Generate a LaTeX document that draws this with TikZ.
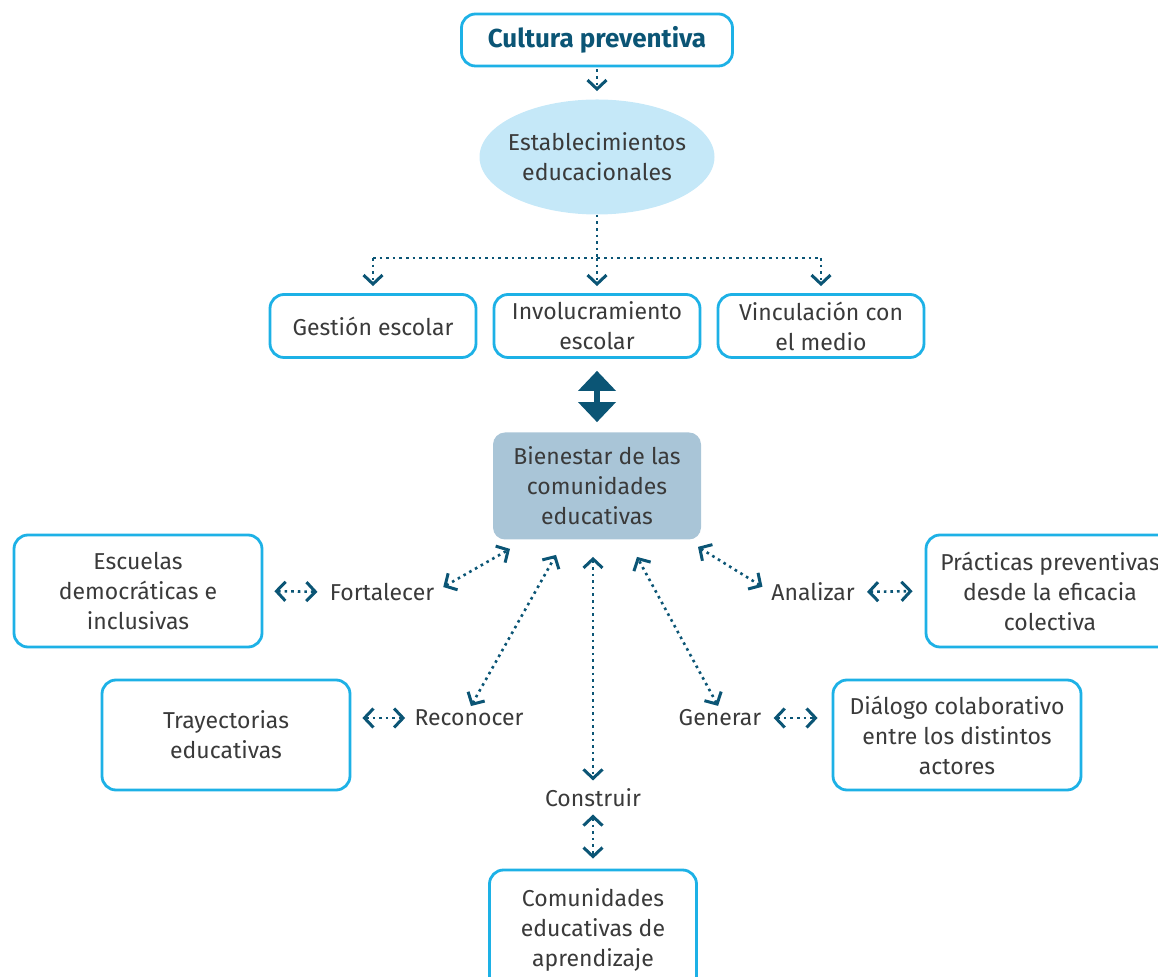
\documentclass[tikz,border=0pt]{standalone}
\usepackage{fontspec}
\setmainfont{Fira Sans}
\usetikzlibrary{arrows.meta,shapes.geometric}
\definecolor{linea}{HTML}{0B5575}
\definecolor{borde}{HTML}{1DB1E6}
\definecolor{elipse}{HTML}{C5E8F8}
\definecolor{fondobien}{HTML}{A9C5D7}
\definecolor{texto}{HTML}{3A3A3A}
\begin{document}
\begin{tikzpicture}[x=0.5pt,y=-0.5pt,
    caja/.style={draw=borde,line width=1.4pt,rounded corners=7pt,align=center,text=texto,
      font=\fontsize{11.5}{15}\selectfont,inner sep=0pt},
    verbo/.style={text=texto,font=\fontsize{11.5}{15}\selectfont,inner sep=0pt},
    punteado/.style={linea,line width=1.3pt,dash pattern=on 1.3pt off 2pt},
    flecha/.style={punteado,-{Straight Barb[length=4.5pt,width=9.5pt,line width=1.5pt]}},
    doble/.style={punteado,{Straight Barb[length=4.5pt,width=9.5pt,line width=1.5pt]}-{Straight Barb[length=4.5pt,width=9.5pt,line width=1.5pt]}}]
  \useasboundingbox (0,0) rectangle (1158,977);
  \clip (0,0) rectangle (1158,977);
  % parte superior
  \node[caja,minimum width=135.5pt,minimum height=26pt,text=linea,font=\fontsize{13}{15}\bfseries](cultura)at(597,40){Cultura preventiva};
  \node[ellipse,fill=elipse,minimum width=117.5pt,minimum height=57.5pt,align=center,text=texto,
    font=\fontsize{11.5}{15}\selectfont,inner xsep=-7pt,inner ysep=0pt](estab)at(597,157){Establecimientos\\educacionales};
  \draw[flecha,shorten <=1pt,shorten >=4pt] (cultura.south) -- (estab.north);
  \node[caja,minimum width=103pt,minimum height=31.5pt](gestion)at(373,326){Gestión escolar};
  \node[caja,minimum width=103pt,minimum height=31.5pt](invol)at(597,326){Involucramiento\\escolar};
  \node[caja,minimum width=103pt,minimum height=31.5pt](vincu)at(821,326){Vinculación con\\el medio};
  \coordinate (rama) at (597,258);
  \draw[punteado] (estab.south) -- (rama);
  \draw[punteado] (gestion.north|-rama) -- (vincu.north|-rama);
  \draw[flecha,shorten >=3.5pt] (gestion.north|-rama) -- (gestion.north);
  \draw[flecha,shorten >=3.5pt] (rama) -- (invol.north);
  \draw[flecha,shorten >=3.5pt] (vincu.north|-rama) -- (vincu.north);
  % centro
  \node[caja,draw=none,fill=fondobien,minimum width=104pt,minimum height=53.5pt,rounded corners=6pt](bien)at(597,486){Bienestar de las\\comunidades\\educativas};
  \draw[linea,line width=3pt,{Triangle[length=10pt,width=19pt,line width=0pt]}-{Triangle[length=10pt,width=19pt,line width=0pt]},
    shorten <=6pt,shorten >=4.5pt] (invol.south) -- (bien.north);
  % izquierda
  \node[caja,minimum width=124pt,minimum height=56pt](escuelas)at(138,591){Escuelas\\democráticas e\\inclusivas};
  \node[verbo](fort)at(382,592){Fortalecer};
  \draw[doble,shorten <=5.5pt,shorten >=6pt] (escuelas.east) -- (fort.west);
  \draw[doble,shorten <=5pt] (fort.east) -- ([shift={(-87,8)}]bien.south);
  \node[caja,minimum width=124pt,minimum height=55pt](trayec)at(226,735){Trayectorias\\educativas};
  \node[verbo](recon)at(469,718){Reconocer};
  \draw[doble,shorten <=5.5pt,shorten >=4.5pt] (trayec.east|-recon.west) -- (recon.west);
  \draw[doble,shorten <=2pt] (recon.north) -- ([shift={(-41,14)}]bien.south);
  % abajo
  \node[verbo](constr)at(593,798){Construir};
  \draw[doble,shorten >=4pt] ([shift={(-4,16)}]bien.south) -- (constr.north);
  \node[caja,minimum width=103.5pt,minimum height=60pt](comun)at(593,930){Comunidades\\educativas de\\aprendizaje};
  \draw[doble,shorten <=3.5pt,shorten >=5pt] (constr.south) -- (comun.north);
  % derecha
  \node[verbo](gener)at(720,718){Generar};
  \draw[doble,shorten <=2pt] (gener.north) -- ([shift={(40,16)}]bien.south);
  \node[caja,minimum width=124pt,minimum height=55pt](dialog)at(957,735){Diálogo colaborativo\\entre los distintos\\actores};
  \draw[doble,shorten <=6pt,shorten >=7pt] (gener.east) -- (dialog.west|-gener.east);
  \node[verbo](anal)at(813,592){Analizar};
  \draw[doble,shorten <=5pt] (anal.west) -- ([shift={(101,6)}]bien.south);
  \node[caja,minimum width=124pt,minimum height=56pt](practi)at(1050,591){Prácticas preventivas\\desde la eficacia\\colectiva};
  \draw[doble,shorten <=6pt,shorten >=6pt] (anal.east) -- (practi.west);
\end{tikzpicture}
\end{document}
